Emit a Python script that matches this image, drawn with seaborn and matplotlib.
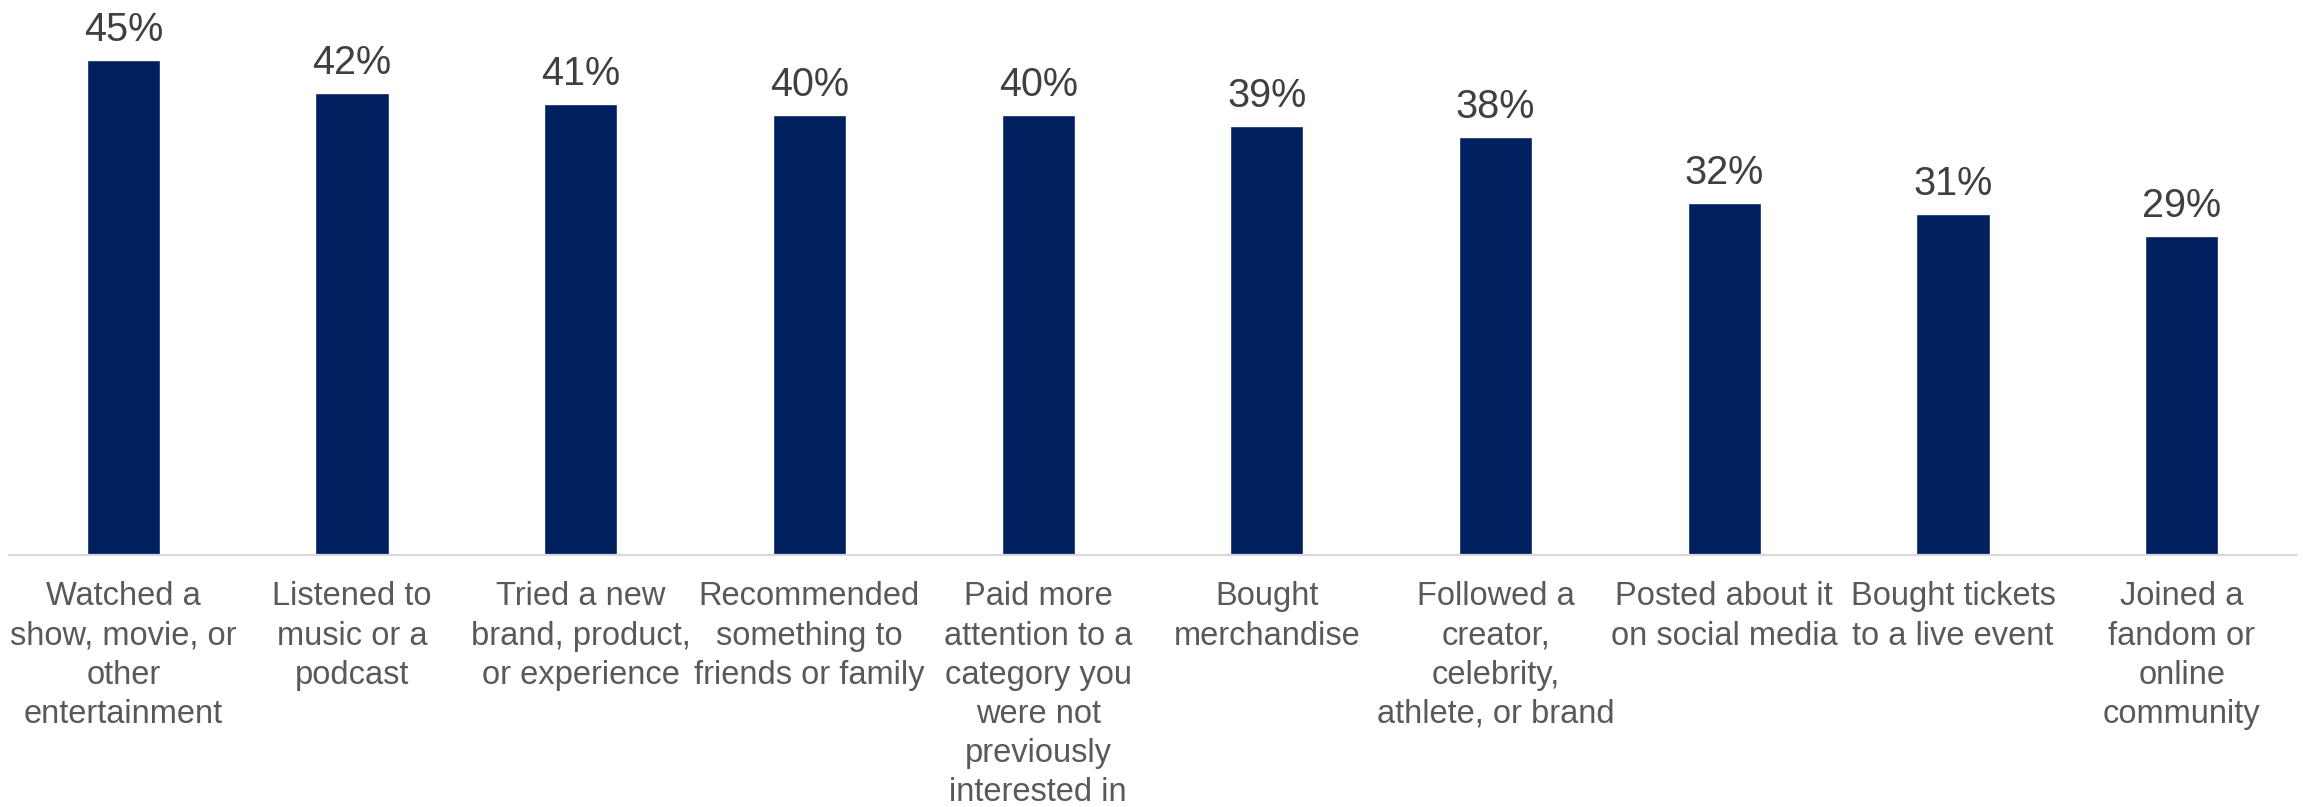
import matplotlib
matplotlib.use("Agg")
import matplotlib.pyplot as plt
import seaborn as sns
import pandas as pd

categories = [
    "Watched a\nshow, movie, or\nother\nentertainment",
    "Listened to\nmusic or a\npodcast",
    "Tried a new\nbrand, product,\nor experience",
    "Recommended\nsomething to\nfriends or family",
    "Paid more\nattention to a\ncategory you\nwere not\npreviously\ninterested in",
    "Bought\nmerchandise",
    "Followed a\ncreator,\ncelebrity,\nathlete, or brand",
    "Posted about it\non social media",
    "Bought tickets\nto a live event",
    "Joined a\nfandom or\nonline\ncommunity",
]
values = [45, 42, 41, 40, 40, 39, 38, 32, 31, 29]

df = pd.DataFrame({"category": categories, "share": values})

sns.set_theme(style="white")
plt.rcParams["font.family"] = ["Liberation Sans", "DejaVu Sans"]

W, H = 2303, 807
fig = plt.figure(figsize=(W / 100, H / 100), dpi=100)
ax = fig.add_axes([9 / W, (H - 555) / H, (2296 - 9) / W, 555 / H])

sns.barplot(data=df, x="category", y="share", color="#002060",
            saturation=1, width=0.32, ax=ax)

ax.set_xlim(-0.5, 9.5)
ax.set_ylim(0, 555 / 11)

for c in ax.containers:
    ax.bar_label(c, labels=[f"{v}%" for v in values], padding=8,
                 fontsize=28.5, color="#404040")

for s in ["top", "left", "right"]:
    ax.spines[s].set_visible(False)
ax.spines["bottom"].set_color("#d9d9d9")
ax.spines["bottom"].set_linewidth(1.6)

ax.set_xlabel("")
ax.set_ylabel("")
ax.set_yticks([])
ax.tick_params(axis="x", length=0, pad=19, labelsize=23.5, labelcolor="#595959")
for t in ax.get_xticklabels():
    t.set_linespacing(1.34)
    t.set_multialignment("center")

fig.savefig("out.png", dpi=100)
